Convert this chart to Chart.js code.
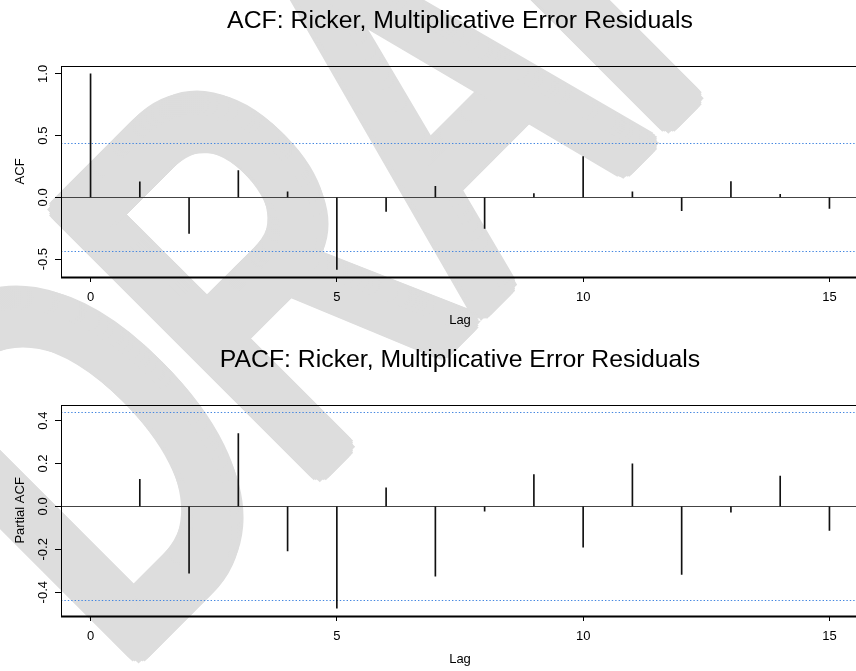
<!DOCTYPE html>
<html>
<head>
<meta charset="utf-8">
<script src="https://cdn.jsdelivr.net/npm/chart.js@4.4.0/dist/chart.umd.min.js"></script>
<style>
html, body { margin: 0; padding: 0; background: #fff; overflow: hidden; width: 856px; height: 671px; }
canvas { position: absolute; left: 0; }
#mark { top: 0; }
#acf { top: 0; }
#pacf { top: 339px; }
</style>
</head>
<body>
<canvas id="mark" width="856" height="671"></canvas>
<canvas id="acf" width="862" height="339"></canvas>
<canvas id="pacf" width="862" height="339"></canvas>
<script>
// values
const acfLags = [0, 1, 2, 3, 4, 5, 6, 7, 8, 9, 10, 11, 12, 13, 14, 15];
const acfValues = [1.0, 0.125, -0.292, 0.216, 0.044, -0.583, -0.113, 0.089, -0.251, 0.030, 0.330, 0.044, -0.108, 0.127, 0.024, -0.089];
const pacfLags = [1, 2, 3, 4, 5, 6, 7, 8, 9, 10, 11, 12, 13, 14, 15];
const pacfValues = [0.126, -0.311, 0.340, -0.208, -0.474, 0.087, -0.325, -0.022, 0.148, -0.190, 0.199, -0.317, -0.027, 0.141, -0.112];
const lagTicks = [0, 5, 10, 15];
const acfTicks = [-0.5, 0, 0.5, 1.0];
const acfTickLabels = ['-0.5', '0.0', '0.5', '1.0'];
const pacfTicks = [-0.4, -0.2, 0, 0.2, 0.4];
const pacfTickLabels = ['-0.4', '-0.2', '0.0', '0.2', '0.4'];
const ciBound = 0.438; // 1.96/sqrt(n), n = 20

const FONT = "'Liberation Sans', Arial, sans-serif";

// watermark: narrow text drawn thin, then grown with round pen offsets
(function drawMark() {
    const M = 40, r = 12;
    const off = document.createElement('canvas');
    off.width = 856 + 2 * M;
    off.height = 671 + 2 * M;
    const o = off.getContext('2d');
    o.translate(118 + M, 672 + M);
    o.rotate(-Math.PI / 4);
    o.scale(0.662, 1);
    o.font = "536px 'Liberation Sans'";
    o.fillStyle = '#dddddd';
    o.fillText('DRAFT', 0, 0);
    const wm = document.getElementById('mark').getContext('2d');
    for (let dy = -r; dy <= r; dy += 2) {
        for (let dx = -r; dx <= r; dx += 2) {
            if (dx * dx + dy * dy <= r * r) wm.drawImage(off, dx - M, dy - M);
        }
    }
})();

// box, zero line, confidence bounds and rotated y labels, R style
function acfDecor(tickValues, tickLabels) {
    return {
        id: 'acfDecor',
        beforeDatasetsDraw(chart) {
            const {ctx, chartArea: a, scales: {y}} = chart;
            ctx.save();
            ctx.strokeStyle = '#4386e0';
            ctx.lineWidth = 1;
            ctx.setLineDash([1.4, 2]);
            [ciBound, -ciBound].forEach(v => {
                const py = Math.round(y.getPixelForValue(v)) + 0.5;
                ctx.beginPath();
                ctx.moveTo(a.left, py);
                ctx.lineTo(a.right, py);
                ctx.stroke();
            });
            ctx.setLineDash([]);
            ctx.strokeStyle = '#444';
            const p0 = Math.round(y.getPixelForValue(0)) + 0.5;
            ctx.beginPath();
            ctx.moveTo(a.left, p0);
            ctx.lineTo(a.right, p0);
            ctx.stroke();
            ctx.restore();
        },
        afterDraw(chart) {
            const {ctx, chartArea: a, scales: {y}} = chart;
            ctx.save();
            ctx.strokeStyle = '#000';
            ctx.lineWidth = 1;
            ctx.strokeRect(Math.round(a.left) + 0.5, Math.round(a.top) + 0.5, a.right - a.left, Math.round(a.bottom - a.top));
            ctx.lineWidth = 2;
            ctx.beginPath();
            ctx.moveTo(a.left, Math.round(a.bottom) + 0.5);
            ctx.lineTo(a.right, Math.round(a.bottom) + 0.5);
            ctx.stroke();
            ctx.fillStyle = '#000';
            ctx.font = '13px ' + FONT;
            ctx.textAlign = 'center';
            ctx.textBaseline = 'middle';
            tickValues.forEach((v, i) => {
                ctx.save();
                ctx.translate(a.left - 18, y.getPixelForValue(v));
                ctx.rotate(-Math.PI / 2);
                ctx.fillText(tickLabels[i], 0, 0);
                ctx.restore();
            });
            ctx.restore();
        }
    };
}

function makePanel(id, title, yTitle, lags, values, yMin, yMax, tickValues, tickLabels) {
    return new Chart(document.getElementById(id), {
        type: 'bar',
        data: {
            datasets: [{
                data: lags.map((l, i) => ({x: l, y: values[i]})),
                backgroundColor: '#111',
                borderWidth: 0,
                barThickness: 1,
                grouped: false
            }]
        },
        options: {
            responsive: false,
            animation: false,
            layout: {padding: {top: 6, right: 3, left: 0, bottom: 0}},
            plugins: {
                legend: {display: false},
                tooltip: {enabled: false},
                title: {
                    display: true,
                    text: title,
                    fullSize: false,
                    color: '#000',
                    font: {family: FONT, size: 24.8, weight: 'normal'},
                    padding: {top: 0, bottom: 30}
                }
            },
            scales: {
                x: {
                    type: 'linear',
                    min: -0.6,
                    max: 15.6,
                    offset: false,
                    afterBuildTicks: s => { s.ticks = lagTicks.map(v => ({value: v})); },
                    afterFit: s => { s.height = 62; },
                    grid: {offset: false, drawOnChartArea: false, drawTicks: true, tickLength: 5, color: '#000'},
                    border: {display: false},
                    ticks: {color: '#000', font: {family: FONT, size: 13}, padding: 8, maxRotation: 0, autoSkip: false, callback: v => String(v)},
                    title: {display: true, text: 'Lag', color: '#000', font: {family: FONT, size: 13}, padding: {top: 0, bottom: 11}}
                },
                y: {
                    min: yMin,
                    max: yMax,
                    afterBuildTicks: s => { s.ticks = tickValues.map(v => ({value: v})); },
                    afterFit: s => { s.width = 61; },
                    grid: {drawOnChartArea: false, drawTicks: true, tickLength: 6, color: '#000'},
                    border: {display: false},
                    ticks: {display: false},
                    title: {display: true, text: yTitle, color: '#000', font: {family: FONT, size: 13}, padding: {top: 13, bottom: 0}}
                }
            }
        },
        plugins: [acfDecor(tickValues, tickLabels)]
    });
}

makePanel('acf', 'ACF: Ricker, Multiplicative Error Residuals', 'ACF',
    acfLags, acfValues, -0.645, 1.066, acfTicks, acfTickLabels);
makePanel('pacf', 'PACF: Ricker, Multiplicative Error Residuals', 'Partial ACF',
    pacfLags, pacfValues, -0.511, 0.474, pacfTicks, pacfTickLabels);
</script>
</body>
</html>
